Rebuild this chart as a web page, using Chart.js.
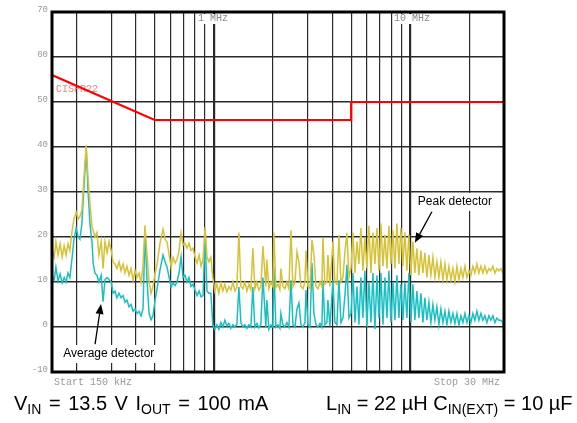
<!DOCTYPE html>
<html>
<head>
<meta charset="utf-8">
<script src="https://cdn.jsdelivr.net/npm/chart.js@4.4.1/dist/chart.umd.min.js"></script>
<style>
  body { margin: 0; background: #fff; }
  #wrap { position: relative; width: 577px; height: 423px; overflow: hidden; }
  .cap { position: absolute; top: 392px; font: 20px "Liberation Sans", Arial, sans-serif; line-height: 22px; white-space: nowrap; color: #000; }
  .cap sub { font-size: 14px; vertical-align: -4px; line-height: 0; }
</style>
</head>
<body>
<div id="wrap">
  <canvas id="emiChart" width="577" height="423"></canvas>
  <div class="cap" style="left:14px; word-spacing:2px">V<sub>IN</sub> = 13.5 V I<sub>OUT</sub> = 100 mA</div>
  <div class="cap" style="left:326px">L<sub>IN</sub> = 22 µH C<sub>IN(EXT)</sub> = 10 µF</div>
</div>
<script>
// frequency in kHz, levels in dBuV
var freqKHz = [150,154,157,161,165,169,173,177,181,185,190,194,199,204,208,213,218,224,229,234,
  240,243,248,254,260,267,273,279,286,293,300,307,314,321,329,337,345,353,361,370,
  379,388,397,406,416,426,436,446,457,468,479,490,502,514,532,551,565,578,592,606,
  620,635,649,665,681,697,713,730,747,765,783,802,821,841,861,881,902,923,943,965,
  988,1012,1036,1060,1086,1111,1138,1165,1192,1221,1250,1279,1310,1341,1373,1405,1438,1473,1508,1543,
  1580,1617,1656,1694,1735,1777,1840,1862,1906,1951,1998,2021,2069,2118,2169,2194,2246,2299,2354,2410,
  2469,2528,2588,2649,2712,2776,2842,2910,2944,3014,3086,3159,3233,3310,3389,3470,3549,3591,3676,3764,
  3808,3898,4038,4133,4231,4333,4437,4541,4649,4760,4873,4988,5106,5228,5352,5476,5606,5739,5875,6014,
  6157,6306,6456,6610,6766,6927,7090,7259,7431,7607,7787,7972,8157,8350,8548,8751,8958,9169,9387,9610,
  9838,10070,10310,10554,10805,11062,11324,11593,11868,12150,12438,12734,13036,13345,13660,13986,14317,14658,15006,15362,
  15726,16099,16481,16872,17271,17682,18101,18532,18972,19423,19883,20349,20830,21327,21831,22350,22880,23424,23979,24550,
  25132,25727,26337,26964,27604,28259,28932,29618,30000];

var peakLevel = [17.5,15.5,19,16,18.5,15.5,18,16,18.5,17,21.5,24,25.5,24,24.5,26,33,40.4,33,27.5,
  22,21.5,20,21,16,19,13,19,16.5,19,17,14.4,14,13,14.5,12.5,14,12,13.5,11.5,
  13,10.4,12.5,11,12,9.8,14,22.6,16,10,7.5,9,12,14,18.6,21.7,19.5,18.9,16,13.3,
  15.5,14.2,15,17,20.9,18.2,18.6,17.5,18.6,17,17.5,15.6,14.2,16,13.5,15,22.2,15.6,14.5,15.5,
  11,8,9.5,7.5,9.8,8,9.5,7.8,9,8.2,10,8,8.8,21,9,8.5,10,8,9.5,8.3,
  17.5,8.5,10,8.2,9,18,9,15,8.5,10,9,21,8.8,9.5,8.3,13,9,8.5,10,8.5,
  21.5,9,10,16.7,14.5,9,8.5,10,17,9,8.5,19.3,16,9,8.5,10,9,19.8,9.5,10,
  16,9,19,10,9.5,20.4,10,11,16.7,20.9,11,13,21,12,19,14,22,12.5,20,13,
  22.5,12,21,14,22,12.5,23,13.5,20.5,13,22.5,14,21.5,13,23,14,22,13.5,21,12.5,
  20.5,11.5,19,12,17.5,11.5,17,12,16.5,11,16,11.5,15.5,11,14.5,11,14.5,10.5,14,10.5,
  13.5,10.5,13,10,13.5,10.5,13,11,13.5,11,12.5,11.5,13.5,12,14,12,13.5,12,13.5,12,
  13,12.5,13.5,12,13,12.5,13,12,12];

var avgLevel = [11.5,10.5,13.3,10.2,11.8,9.8,11,10,12,11,15.5,19.5,22,20,19.5,23,31,39.3,30,23,
  18.6,14.2,12,11.5,10,11.5,5.6,10.5,11,10.5,10,7.5,8,6.5,7.5,6.5,7,5.5,6,4.5,
  5,3.5,4,3,3.5,2.5,4,20.9,10.4,3,1.6,2.5,6,8.5,12.7,16,14.5,13.3,11,8.9,
  9.8,9.2,10,12,15.6,11,11.5,10,11,9,9.5,8.2,7,8,6.7,7,20.4,8,7.5,7.5,
  0.5,-0.5,0.5,-0.5,1,0,1.5,0.2,0.8,-0.3,0.5,0,0.6,8.9,1,0,0.5,-0.3,0.5,0,
  8.9,0,0.8,-0.2,0.5,11,0,6,-0.5,0.5,0,13.3,0,0.5,-0.3,3,0.5,0,1,0,
  10.4,0.5,0,4,5.3,0.5,0,1,8.2,0.5,0,14.2,3,0.5,0,0.8,0,10.4,0.5,1,
  6,0.2,10.4,1,0.5,10.4,1,2,7,13.8,2,3,12,1,9,0.5,11,2,12.5,0,
  10,1,12,-0.5,11.5,2,12,0.5,11,2,12.5,1,10,1.5,11.5,2,9.5,1.5,10,2,
  12,1,9.5,1.5,8,2,7.5,1,6.5,1.5,5.5,1,5,1.5,4.5,0.5,4,1,3.5,0.5,
  3.5,1,3,0.8,3,0.5,2.5,1,3,1,2.5,1,3,1.5,3.5,1.5,3,1.5,2.5,1,
  2.5,1.5,2.5,1,2,1.5,1.5,1,-1.5];

// CISPR 22 class B conducted limit
var limitFreq = [150, 500, 5000, 5000, 30000];
var limitLevel = [56, 46, 46, 50, 50];

// vertical grid lines
var gridFreqs = [200,300,400,500,600,700,800,900,1000,2000,3000,4000,5000,6000,7000,8000,9000,10000,20000];
var decadeLabels = [{freq: 1000, text: '1 MHz'}, {freq: 10000, text: '10 MHz'}];

// annotations, in data units
var notes = [
  {text: 'Peak detector', lx: 10930, ly: 27.8, fromX: 12885, fromY: 25.6, toX: 10554, toY: 18.7},
  {text: 'Average detector', lx: 171, ly: -6, fromX: 248.5, fromY: -3.8, toX: 266.5, toY: 5.1}
];

function toPoints(xs, ys) {
  var pts = [];
  for (var i = 0; i < xs.length; i++) {
    pts.push({x: xs[i], y: ys[i]});
  }
  return pts;
}

function arrow(ctx, x1, y1, x2, y2) {
  var ang = Math.atan2(y2 - y1, x2 - x1);
  var len = 10, half = 4;
  var bx = x2 - len * Math.cos(ang), by = y2 - len * Math.sin(ang);
  ctx.beginPath();
  ctx.moveTo(x1, y1);
  ctx.lineTo(bx, by);
  ctx.stroke();
  ctx.beginPath();
  ctx.moveTo(x2, y2);
  ctx.lineTo(bx + half * Math.sin(ang), by - half * Math.cos(ang));
  ctx.lineTo(bx - half * Math.sin(ang), by + half * Math.cos(ang));
  ctx.closePath();
  ctx.fill();
}

var overlay = {
  id: 'overlay',
  beforeDatasetsDraw: function(chart) {
    var ctx = chart.ctx, a = chart.chartArea, xs = chart.scales.x, ys = chart.scales.y;
    ctx.save();
    // decade markers at the top
    ctx.font = '10px "Liberation Mono", monospace';
    ctx.textBaseline = 'middle';
    decadeLabels.forEach(function(d) {
      var left = Math.round(xs.getPixelForValue(d.freq)) - 16;
      var w = ctx.measureText(d.text).width;
      ctx.fillStyle = '#fff';
      ctx.fillRect(left - 1, a.top + 2, w + 3, 10);
      ctx.fillStyle = '#888';
      ctx.fillText(d.text, left, a.top + 6);
    });
    // limit name, sits under the red line
    ctx.fillStyle = '#ff7a7a';
    ctx.fillText('CISPR22', a.left + 4, ys.getPixelForValue(52.9));
    // white boxes behind the note labels
    ctx.font = '12px "Liberation Sans", Arial, sans-serif';
    notes.forEach(function(n) {
      var x = xs.getPixelForValue(n.lx), y = ys.getPixelForValue(n.ly);
      var w = ctx.measureText(n.text).width;
      ctx.fillStyle = '#fff';
      ctx.fillRect(x - 3, y - 9, w + 6, 18);
    });
    ctx.restore();
  },
  afterDraw: function(chart) {
    var ctx = chart.ctx, a = chart.chartArea, xs = chart.scales.x, ys = chart.scales.y;
    ctx.save();
    ctx.strokeStyle = '#000';
    ctx.lineWidth = 3;
    ctx.strokeRect(a.left, a.top, a.right - a.left, a.bottom - a.top);

    ctx.font = '12px "Liberation Sans", Arial, sans-serif';
    ctx.textBaseline = 'middle';
    ctx.fillStyle = '#000';
    ctx.strokeStyle = '#000';
    ctx.lineWidth = 1.3;
    notes.forEach(function(n) {
      ctx.fillText(n.text, xs.getPixelForValue(n.lx), ys.getPixelForValue(n.ly));
      arrow(ctx, xs.getPixelForValue(n.fromX), ys.getPixelForValue(n.fromY),
            xs.getPixelForValue(n.toX), ys.getPixelForValue(n.toY));
    });

    // sweep start / stop
    ctx.font = '10px "Liberation Mono", monospace';
    ctx.fillStyle = '#999';
    ctx.textAlign = 'left';
    ctx.fillText('Start 150 kHz', a.left + 2, a.bottom + 10);
    ctx.textAlign = 'right';
    ctx.fillText('Stop 30 MHz', a.right - 4, a.bottom + 10);
    ctx.restore();
  }
};

var ctx = document.getElementById('emiChart');
var myChart = new Chart(ctx, {
  type: 'line',
  data: {
    datasets: [{
      label: 'Peak detector',
      data: toPoints(freqKHz, peakLevel),
      borderColor: '#d6c236',
      borderWidth: 1.5,
      pointRadius: 0,
      fill: false
    }, {
      label: 'Average detector',
      data: toPoints(freqKHz, avgLevel),
      borderColor: '#1abfc2',
      borderWidth: 1.5,
      pointRadius: 0,
      fill: false
    }, {
      label: 'CISPR22',
      data: toPoints(limitFreq, limitLevel),
      borderColor: '#ff0000',
      borderWidth: 2.2,
      pointRadius: 0,
      fill: false
    }]
  },
  options: {
    responsive: false,
    animation: false,
    devicePixelRatio: 1,
    layout: { padding: { left: 0, right: 73, top: 12, bottom: 51 } },
    plugins: { legend: { display: false }, tooltip: { enabled: false } },
    scales: {
      x: {
        type: 'logarithmic',
        min: 150,
        max: 30000,
        afterBuildTicks: function(s) {
          s.ticks = gridFreqs.map(function(v) { return {value: v}; });
        },
        afterFit: function(s) { s.height = 0; },
        ticks: { display: false },
        border: { display: false },
        grid: {
          drawTicks: false,
          color: '#2a2a2a',
          lineWidth: function(c) {
            if (c.tick && (c.tick.value === 1000 || c.tick.value === 10000)) return 2.2;
            return 1.2;
          }
        }
      },
      y: {
        min: -10,
        max: 70,
        afterFit: function(s) { s.width = 52; },
        border: { display: false },
        ticks: {
          stepSize: 10,
          color: '#999',
          padding: 4,
          labelOffset: -2,
          font: { family: 'Liberation Mono', size: 9 }
        },
        grid: { drawTicks: false, color: '#2a2a2a', lineWidth: 1.4 }
      }
    }
  },
  plugins: [overlay]
});
</script>
</body>
</html>
